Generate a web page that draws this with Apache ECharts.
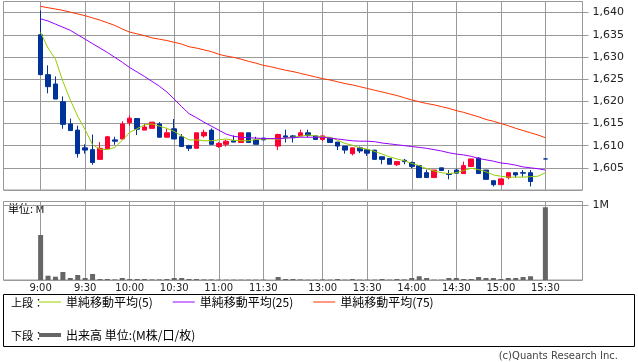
<!DOCTYPE html>
<html><head><meta charset="utf-8">
<script src="https://cdn.jsdelivr.net/npm/echarts@6/dist/echarts.min.js"></script>
<style>html,body{margin:0;padding:0;background:#fff}#c{width:638px;height:362px}</style>
</head><body><div id="c"></div>
<script>
const times = ['9:00','9:05','9:10','9:15','9:20','9:25','9:30','9:35','9:40','9:45','9:50','9:55',
'10:00','10:05','10:10','10:15','10:20','10:25','10:30','10:35','10:40','10:45','10:50','10:55',
'11:00','11:05','11:10','11:15','11:20','11:25','11:30','',
'12:30','12:35','12:40','12:45','12:50','12:55',
'13:00','13:05','13:10','13:15','13:20','13:25','13:30','13:35','13:40','13:45','13:50','13:55',
'14:00','14:05','14:10','14:15','14:20','14:25','14:30','14:35','14:40','14:45','14:50','14:55',
'15:00','15:05','15:10','15:15','15:20','15:25','15:30'];
const tickLabels = ['9:00','9:30','10:00','10:30','11:00','11:30','13:00','13:30','14:00','14:30','15:00','15:30'];

const open  = [1635,1626,1623.9,1619.9,1614.9,1613.5,1609.5,1609.1,1606.9,1609.3,1611.3,1611.5,1615.2,1616.1,1613.5,1613.9,1614.9,1611.9,1613.8,1612.0,1610.0,1609.4,1612.2,1613.5,1609.8,1610.3,1611.1,1610.7,1612.9,1611.3,1611.7,null,1609.9,1612.2,1612.2,1612.2,1612.9,1612.2,1611.4,1611.7,1610.8,1609.9,1608.2,1609.5,1609.1,1609.0,1607.5,1607.1,1605.7,1606.7,1606.2,1605.5,1603.9,1602.8,1605.0,1603.7,1604.5,1603.7,1605.3,1607.2,1604.5,1602.1,1601.2,1602.8,1603.9,1603.9,1603.9,null,1607.0];
const close = [1626,1623.3,1620.5,1614.8,1613.4,1608.2,1609.0,1606.2,1609.4,1612.0,1611.0,1614.9,1616.2,1613.7,1614.2,1615.3,1611.9,1612.9,1611.5,1609.8,1609.4,1612.9,1613.0,1610.3,1610.5,1611.0,1610.8,1612.9,1610.7,1610.3,1611.3,null,1612.5,1611.9,1611.8,1612.9,1612.3,1611.4,1612.2,1610.7,1609.9,1609.0,1609.5,1608.8,1608.3,1606.9,1606.9,1605.8,1606.4,1606.4,1605.3,1602.8,1602.8,1604.5,1604.4,1603.5,1603.8,1605.5,1607.0,1603.7,1602.4,1601.2,1602.5,1603.9,1603.4,1603.8,1601.9,null,1607.0];
const low   = [1626,1621.8,1620.5,1613.8,1613.4,1607.3,1608.2,1605.7,1606.9,1609.3,1610.2,1611.5,1614.5,1612.4,1613.5,1613.9,1611.9,1611.9,1611.5,1609.8,1608.8,1609.4,1611.8,1610.3,1609.5,1609.8,1610.8,1610.7,1610.7,1610.3,1611.3,null,1609.0,1610.7,1610.7,1612.2,1611.9,1611.4,1611.0,1610.7,1609.0,1608.2,1607.8,1608.3,1607.7,1606.9,1605.8,1605.8,1605.4,1605.8,1604.9,1602.8,1602.8,1602.8,1604.4,1602.4,1603.8,1603.7,1605.3,1603.7,1602.4,1600.8,1601.2,1602.4,1602.8,1603.0,1600.8,null,1607.0];
const high  = [1640.5,1628.1,1625.6,1621.1,1616.1,1614.5,1610.3,1612.5,1610.8,1612.2,1612.0,1615.5,1616.8,1616.1,1614.9,1615.3,1615.3,1613.8,1616.0,1612.6,1610.2,1612.9,1613.6,1613.9,1610.8,1611.3,1612.3,1612.9,1612.9,1612.0,1611.7,null,1612.7,1613.6,1612.4,1613.6,1613.6,1612.2,1612.2,1611.7,1610.8,1609.9,1609.5,1609.8,1609.1,1609.0,1607.5,1607.1,1606.4,1607.0,1606.4,1605.5,1604.6,1604.5,1605.0,1604.5,1604.8,1606.4,1607.0,1607.4,1604.5,1602.1,1602.5,1603.9,1603.9,1604.5,1604.5,null,1607.0];

const ma5  = [1635.5,1632.0,1629.5,1624.5,1620.3,1616.6,1613.6,1610.2,1609.2,1609.1,1609.6,1611.2,1613.0,1613.8,1614.7,1614.9,1614.4,1613.9,1613.2,1612.2,1611.3,1611.3,1611.1,1611.1,1611.3,1611.5,1611.2,1611.1,1611.1,1611.4,1611.5,1611.5,1611.5,1611.7,1611.9,1612.1,1612.4,1612.2,1612.0,1611.9,1611.2,1610.5,1610.1,1609.5,1609.2,1608.7,1608.1,1607.5,1607.0,1606.6,1606.0,1605.5,1604.8,1604.3,1603.9,1603.7,1603.9,1604.4,1604.9,1604.6,1604.1,1603.4,1603.1,1602.9,1602.9,1602.9,1603.0,1603.1,1603.9];
const ma25 = [1638.6,1638.1,1637.4,1636.7,1636.0,1635.0,1634.0,1633.0,1632.0,1631.0,1629.9,1628.8,1627.6,1626.6,1625.6,1624.5,1623.4,1622.1,1620.5,1618.8,1617.2,1616.3,1615.3,1614.4,1613.5,1612.6,1612.1,1611.9,1611.8,1611.7,1611.6,1611.6,1611.6,1611.7,1611.8,1611.9,1611.9,1611.9,1611.9,1611.7,1611.5,1611.3,1611.1,1611.0,1611.0,1610.9,1610.6,1610.4,1610.2,1610.0,1609.8,1609.6,1609.4,1609.1,1608.8,1608.4,1608.1,1607.9,1607.6,1607.1,1606.8,1606.5,1606.1,1605.9,1605.6,1605.2,1605.0,1604.8,1604.5];
const ma75 = [1641.4,1641.1,1640.8,1640.5,1640.1,1639.7,1639.3,1638.8,1638.3,1637.7,1637.1,1636.3,1635.6,1635.2,1634.8,1634.3,1634.0,1633.7,1633.3,1632.9,1632.3,1632.0,1631.6,1631.2,1630.6,1630.2,1629.9,1629.5,1629.0,1628.6,1628.1,1627.8,1627.4,1627.0,1626.7,1626.3,1625.9,1625.5,1625.1,1624.8,1624.4,1624.0,1623.7,1623.3,1622.9,1622.5,1622.1,1621.7,1621.3,1620.8,1620.3,1619.9,1619.5,1619.2,1618.8,1618.4,1617.9,1617.5,1617.0,1616.5,1615.9,1615.5,1615.0,1614.5,1613.9,1613.4,1612.9,1612.4,1611.8];

const volume = [0.60,0.057,0.044,0.107,0.027,0.067,0.027,0.08,0.013,0.013,
 0.008,0.027,0.013,0.013,0.013,0.008,0.008,0.013,0.027,0.027,
 0.013,0.013,0.008,0.008,0.005,0.005,0.005,0.005,0.005,0.005,
 0.005,null,0.04,0.013,0.013,0.008,0.005,0.005,0.008,0.005,
 0.013,0.005,0.013,0.005,0.005,0.005,0.013,0.005,0.013,0.008,
 0.027,0.05,0.027,0.005,0.005,0.027,0.027,0.013,0.013,0.04,
 0.027,0.027,0.013,0.027,0.027,0.04,0.05,null,0.97];

const UP = '#ff0033', DOWN = '#003399';
const GRIDC = '#999999';
const PAD = 5;
const padL = Array.from({length: PAD}, (_, i) => 'padL' + i);
const padR = Array.from({length: PAD}, (_, i) => 'padR' + i);
const cats = padL.concat(times, padR);
const blanks = Array(PAD).fill('-');
const padArr = a => blanks.concat(a.map(v => v == null ? '-' : v), blanks);

const candleCore = times.map((t, i) => {
  if (open[i] == null) return ['-', '-', '-', '-'];
  const v = [open[i], close[i], low[i], high[i]];
  if (open[i] === close[i]) return { value: v, itemStyle: { color: DOWN, color0: DOWN, borderColor: DOWN, borderColor0: DOWN } };
  return v;
});
const candleData = Array(PAD).fill(['-','-','-','-']).concat(candleCore, Array(PAD).fill(['-','-','-','-']));

const isTick = (idx, v) => tickLabels.indexOf(v) >= 0;
const NUMFONT = 'DejaVu Sans';
const JPFONT = 'Noto Sans CJK JP';

const chart = echarts.init(document.getElementById('c'), null, { renderer: 'canvas' });
chart.setOption({
  animation: false,
  backgroundColor: '#ffffff',
  grid: [
    { left: 3.5, top: 1.5, width: 579, height: 188.5, show: true, borderColor: GRIDC, borderWidth: 1, backgroundColor: 'transparent', containLabel: false },
    { left: 3.5, top: 201.5, width: 579, height: 78.5, show: true, borderColor: GRIDC, borderWidth: 1, backgroundColor: 'transparent', containLabel: false }
  ],
  xAxis: [
    { type: 'category', gridIndex: 0, data: cats, boundaryGap: false,
      axisLine: { show: false }, axisTick: { show: false }, axisLabel: { show: false },
      splitLine: { show: true, interval: isTick, lineStyle: { color: GRIDC, width: 1 } } },
    { type: 'category', gridIndex: 1, data: cats, boundaryGap: false,
      axisLine: { show: false }, axisTick: { show: false },
      axisLabel: { show: true, interval: isTick, color: '#222', fontSize: 10, fontFamily: NUMFONT, margin: 3 },
      splitLine: { show: true, interval: isTick, lineStyle: { color: GRIDC, width: 1 } } }
  ],
  yAxis: [
    { type: 'value', gridIndex: 0, position: 'right', min: 1600, max: 1642.5, interval: 5,
      axisLine: { show: false },
      axisTick: { show: true, length: 6, lineStyle: { color: GRIDC } },
      axisLabel: { color: '#222', fontSize: 11, fontFamily: NUMFONT, margin: 10, showMinLabel: false, showMaxLabel: false,
        formatter: v => (v % 5 === 0 ? v.toLocaleString('en-US') : '') },
      splitLine: { show: true, lineStyle: { color: GRIDC, width: 1 } } },
    { type: 'value', gridIndex: 1, position: 'right', min: 0, max: 1.0467, interval: 1,
      axisLine: { show: false },
      axisTick: { show: true, length: 6, lineStyle: { color: GRIDC } },
      axisLabel: { color: '#222', fontSize: 11, fontFamily: NUMFONT, margin: 10, showMinLabel: false, showMaxLabel: false,
        formatter: v => (v === 1 ? '1M' : '') },
      splitLine: { show: true, lineStyle: { color: GRIDC, width: 1 } } }
  ],
  legend: [
    { data: ['単純移動平均(5)', '単純移動平均(25)', '単純移動平均(75)'], left: 39, top: 296, itemWidth: 22, itemHeight: 1, itemGap: 20,
      icon: 'rect', selectedMode: false, padding: 0, textStyle: { fontFamily: JPFONT, fontSize: 12, color: '#000' } },
    { data: ['出来高 単位:(M株/口/枚)'], left: 39, top: 329, itemWidth: 22, itemHeight: 4, icon: 'rect', itemGap: 20,
      selectedMode: false, padding: 0, textStyle: { fontFamily: JPFONT, fontSize: 12, color: '#000' } }
  ],
  graphic: [
    { type: 'rect', shape: { x: 3.5, y: 294.5, width: 631, height: 52 }, style: { fill: 'none', stroke: '#000', lineWidth: 1 }, silent: true },
    { type: 'text', x: 11, y: 303, style: { text: '上段：', font: '11px "Noto Sans CJK JP"', fill: '#000', verticalAlign: 'middle' } },
    { type: 'text', x: 11, y: 336, style: { text: '下段：', font: '11px "Noto Sans CJK JP"', fill: '#000', verticalAlign: 'middle' } },
    { type: 'text', x: 8, y: 209, style: { text: '単位: M', font: '11px "Noto Sans CJK JP"', fill: '#000', verticalAlign: 'middle' } },
    { type: 'text', x: 618, y: 356, style: { text: '(c)Quants Research Inc.', font: '10px "DejaVu Sans"', fill: '#444', align: 'right', verticalAlign: 'middle' } }
  ],
  series: [
    { type: 'candlestick', name: 'price', xAxisIndex: 0, yAxisIndex: 0, data: candleData, barWidth: 5, z: 2,
      itemStyle: { color: UP, color0: DOWN, borderColor: UP, borderColor0: DOWN, borderWidth: 1 } },
    { type: 'line', name: '単純移動平均(5)', xAxisIndex: 0, yAxisIndex: 0, data: padArr(ma5), symbol: 'none', z: 3,
      lineStyle: { color: '#99cc00', width: 1 }, itemStyle: { color: '#99cc00' } },
    { type: 'line', name: '単純移動平均(25)', xAxisIndex: 0, yAxisIndex: 0, data: padArr(ma25), symbol: 'none', z: 3,
      lineStyle: { color: '#9900ff', width: 1 }, itemStyle: { color: '#9900ff' } },
    { type: 'line', name: '単純移動平均(75)', xAxisIndex: 0, yAxisIndex: 0, data: padArr(ma75), symbol: 'none', z: 3,
      lineStyle: { color: '#ff3300', width: 1 }, itemStyle: { color: '#ff3300' } },
    { type: 'bar', name: '出来高 単位:(M株/口/枚)', xAxisIndex: 1, yAxisIndex: 1, data: padArr(volume), barWidth: 5,
      itemStyle: { color: '#666666' } }
  ]
});
</script></body></html>
